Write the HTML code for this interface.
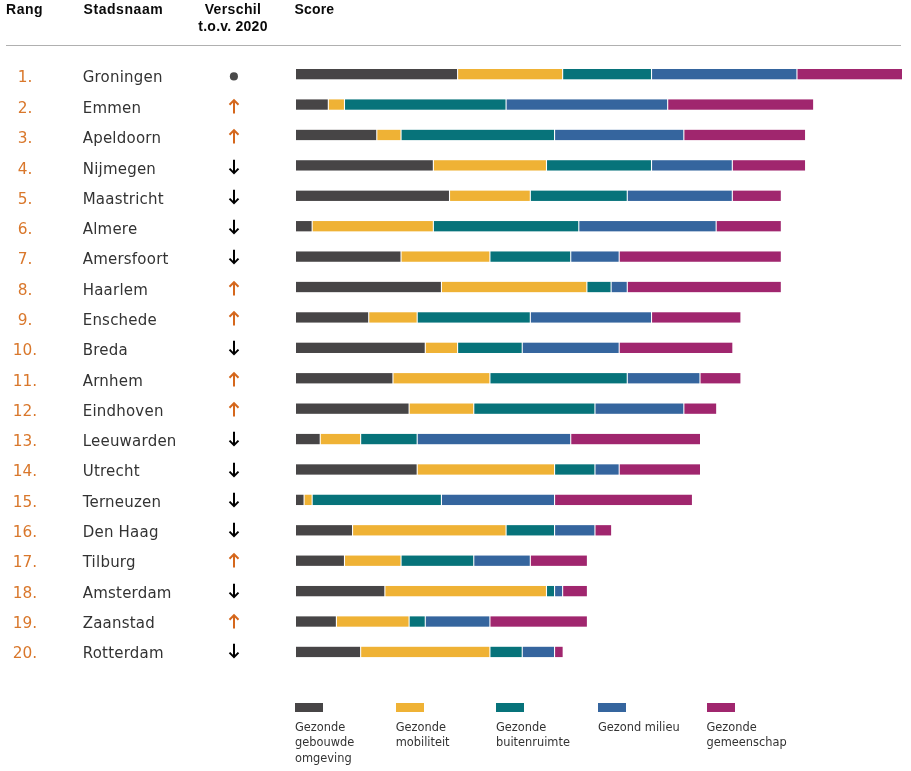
<!DOCTYPE html>
<html lang="nl"><head><meta charset="utf-8"><title>Ranglijst</title>
<style>
html,body{margin:0;padding:0;background:#fff;}
body{width:911px;height:771px;position:relative;overflow:hidden;font-family:"DejaVu Sans","Liberation Sans",sans-serif;color:#333;}
.h{position:absolute;top:0;font-family:"Liberation Sans",sans-serif;font-weight:bold;font-size:14px;letter-spacing:0.25px;line-height:17px;color:#0a0a0a;white-space:nowrap;}
.line{position:absolute;left:6px;top:45px;width:895px;height:1px;background:#b0b0b0;}
.r{position:absolute;left:0;width:50px;text-align:center;font-size:15.35px;line-height:20px;color:#D9772B;white-space:nowrap;}
.c{position:absolute;left:82.7px;font-size:15px;letter-spacing:0.22px;line-height:20px;color:#333;white-space:nowrap;}
.a{position:absolute;left:227px;width:14px;height:17px;}
.b{position:absolute;height:10.3px;}
.lg{position:absolute;top:702.5px;width:28.4px;height:9.5px;}
.lt{position:absolute;top:720px;font-size:11.4px;line-height:15.4px;color:#333;white-space:nowrap;}
</style></head><body>
<div class="h" style="left:6px;top:1px;letter-spacing:0.55px">Rang</div>
<div class="h" style="left:83.5px;top:1px;letter-spacing:0.57px">Stadsnaam</div>
<div class="h" style="left:183px;width:100px;text-align:center;top:1px"><span style="letter-spacing:0.38px">Verschil</span><br>t.o.v. 2020</div>
<div class="h" style="left:294.5px;top:1px;letter-spacing:0.15px">Score</div>
<div class="line"></div>

<div class="r" style="top:66.9px">1.</div>
<div class="c" style="top:66.9px">Groningen</div>
<svg class="a" style="top:66.6px" viewBox="0 0 14 17"><circle cx="6.9" cy="9.4" r="4.05" fill="#4a4a4a"/></svg>
<div class="r" style="top:97.9px">2.</div>
<div class="c" style="top:97.9px">Emmen</div>
<svg class="a" style="top:98.0px" viewBox="0 0 14 17"><path d="M7 15.6V2.2M2.5 6.7L7 2.2L11.5 6.7" fill="none" stroke="#D5671C" stroke-width="2"/></svg>
<div class="r" style="top:127.9px">3.</div>
<div class="c" style="top:127.9px">Apeldoorn</div>
<svg class="a" style="top:128.3px" viewBox="0 0 14 17"><path d="M7 15.6V2.2M2.5 6.7L7 2.2L11.5 6.7" fill="none" stroke="#D5671C" stroke-width="2"/></svg>
<div class="r" style="top:158.9px">4.</div>
<div class="c" style="top:158.9px">Nijmegen</div>
<svg class="a" style="top:158.6px" viewBox="0 0 14 17"><path d="M7 0.7V14.1M2.5 9.6L7 14.1L11.5 9.6" fill="none" stroke="#000" stroke-width="2"/></svg>
<div class="r" style="top:188.9px">5.</div>
<div class="c" style="top:188.9px">Maastricht</div>
<svg class="a" style="top:188.9px" viewBox="0 0 14 17"><path d="M7 0.7V14.1M2.5 9.6L7 14.1L11.5 9.6" fill="none" stroke="#000" stroke-width="2"/></svg>
<div class="r" style="top:218.9px">6.</div>
<div class="c" style="top:218.9px">Almere</div>
<svg class="a" style="top:219.2px" viewBox="0 0 14 17"><path d="M7 0.7V14.1M2.5 9.6L7 14.1L11.5 9.6" fill="none" stroke="#000" stroke-width="2"/></svg>
<div class="r" style="top:248.9px">7.</div>
<div class="c" style="top:248.9px">Amersfoort</div>
<svg class="a" style="top:249.4px" viewBox="0 0 14 17"><path d="M7 0.7V14.1M2.5 9.6L7 14.1L11.5 9.6" fill="none" stroke="#000" stroke-width="2"/></svg>
<div class="r" style="top:279.9px">8.</div>
<div class="c" style="top:279.9px">Haarlem</div>
<svg class="a" style="top:279.7px" viewBox="0 0 14 17"><path d="M7 15.6V2.2M2.5 6.7L7 2.2L11.5 6.7" fill="none" stroke="#D5671C" stroke-width="2"/></svg>
<div class="r" style="top:309.9px">9.</div>
<div class="c" style="top:309.9px">Enschede</div>
<svg class="a" style="top:310.0px" viewBox="0 0 14 17"><path d="M7 15.6V2.2M2.5 6.7L7 2.2L11.5 6.7" fill="none" stroke="#D5671C" stroke-width="2"/></svg>
<div class="r" style="top:339.9px">10.</div>
<div class="c" style="top:339.9px">Breda</div>
<svg class="a" style="top:340.3px" viewBox="0 0 14 17"><path d="M7 0.7V14.1M2.5 9.6L7 14.1L11.5 9.6" fill="none" stroke="#000" stroke-width="2"/></svg>
<div class="r" style="top:370.9px">11.</div>
<div class="c" style="top:370.9px">Arnhem</div>
<svg class="a" style="top:370.6px" viewBox="0 0 14 17"><path d="M7 15.6V2.2M2.5 6.7L7 2.2L11.5 6.7" fill="none" stroke="#D5671C" stroke-width="2"/></svg>
<div class="r" style="top:400.9px">12.</div>
<div class="c" style="top:400.9px">Eindhoven</div>
<svg class="a" style="top:400.9px" viewBox="0 0 14 17"><path d="M7 15.6V2.2M2.5 6.7L7 2.2L11.5 6.7" fill="none" stroke="#D5671C" stroke-width="2"/></svg>
<div class="r" style="top:430.9px">13.</div>
<div class="c" style="top:430.9px">Leeuwarden</div>
<svg class="a" style="top:431.2px" viewBox="0 0 14 17"><path d="M7 0.7V14.1M2.5 9.6L7 14.1L11.5 9.6" fill="none" stroke="#000" stroke-width="2"/></svg>
<div class="r" style="top:460.9px">14.</div>
<div class="c" style="top:460.9px">Utrecht</div>
<svg class="a" style="top:461.5px" viewBox="0 0 14 17"><path d="M7 0.7V14.1M2.5 9.6L7 14.1L11.5 9.6" fill="none" stroke="#000" stroke-width="2"/></svg>
<div class="r" style="top:491.9px">15.</div>
<div class="c" style="top:491.9px">Terneuzen</div>
<svg class="a" style="top:491.8px" viewBox="0 0 14 17"><path d="M7 0.7V14.1M2.5 9.6L7 14.1L11.5 9.6" fill="none" stroke="#000" stroke-width="2"/></svg>
<div class="r" style="top:521.9px">16.</div>
<div class="c" style="top:521.9px">Den Haag</div>
<svg class="a" style="top:522.1px" viewBox="0 0 14 17"><path d="M7 0.7V14.1M2.5 9.6L7 14.1L11.5 9.6" fill="none" stroke="#000" stroke-width="2"/></svg>
<div class="r" style="top:551.9px">17.</div>
<div class="c" style="top:551.9px">Tilburg</div>
<svg class="a" style="top:552.3px" viewBox="0 0 14 17"><path d="M7 15.6V2.2M2.5 6.7L7 2.2L11.5 6.7" fill="none" stroke="#D5671C" stroke-width="2"/></svg>
<div class="r" style="top:582.9px">18.</div>
<div class="c" style="top:582.9px">Amsterdam</div>
<svg class="a" style="top:582.6px" viewBox="0 0 14 17"><path d="M7 0.7V14.1M2.5 9.6L7 14.1L11.5 9.6" fill="none" stroke="#000" stroke-width="2"/></svg>
<div class="r" style="top:612.9px">19.</div>
<div class="c" style="top:612.9px">Zaanstad</div>
<svg class="a" style="top:612.9px" viewBox="0 0 14 17"><path d="M7 15.6V2.2M2.5 6.7L7 2.2L11.5 6.7" fill="none" stroke="#D5671C" stroke-width="2"/></svg>
<div class="r" style="top:642.9px">20.</div>
<div class="c" style="top:642.9px">Rotterdam</div>
<svg class="a" style="top:643.2px" viewBox="0 0 14 17"><path d="M7 0.7V14.1M2.5 9.6L7 14.1L11.5 9.6" fill="none" stroke="#000" stroke-width="2"/></svg>
<svg style="position:absolute;left:296.1px;top:68.7px;overflow:visible" width="612" height="600" viewBox="0 0 612 600"><rect x="0.00" y="0.00" width="161.05" height="10.3" fill="#474546"/><rect x="162.15" y="0.00" width="103.94" height="10.3" fill="#EFB235"/><rect x="267.19" y="0.00" width="87.78" height="10.3" fill="#07737A"/><rect x="356.07" y="0.00" width="144.34" height="10.3" fill="#35659E"/><rect x="501.51" y="0.00" width="104.49" height="10.3" fill="#A0266E"/><rect x="0.00" y="30.41" width="31.77" height="10.3" fill="#474546"/><rect x="32.87" y="30.41" width="15.06" height="10.3" fill="#EFB235"/><rect x="49.03" y="30.41" width="160.50" height="10.3" fill="#07737A"/><rect x="210.63" y="30.41" width="160.50" height="10.3" fill="#35659E"/><rect x="372.23" y="30.41" width="144.89" height="10.3" fill="#A0266E"/><rect x="0.00" y="60.82" width="80.25" height="10.3" fill="#474546"/><rect x="81.35" y="60.82" width="23.14" height="10.3" fill="#EFB235"/><rect x="105.59" y="60.82" width="152.42" height="10.3" fill="#07737A"/><rect x="259.11" y="60.82" width="128.18" height="10.3" fill="#35659E"/><rect x="388.39" y="60.82" width="120.65" height="10.3" fill="#A0266E"/><rect x="0.00" y="91.23" width="136.81" height="10.3" fill="#474546"/><rect x="137.91" y="91.23" width="112.02" height="10.3" fill="#EFB235"/><rect x="251.03" y="91.23" width="103.94" height="10.3" fill="#07737A"/><rect x="356.07" y="91.23" width="79.70" height="10.3" fill="#35659E"/><rect x="436.87" y="91.23" width="72.17" height="10.3" fill="#A0266E"/><rect x="0.00" y="121.64" width="152.97" height="10.3" fill="#474546"/><rect x="154.07" y="121.64" width="79.70" height="10.3" fill="#EFB235"/><rect x="234.87" y="121.64" width="95.86" height="10.3" fill="#07737A"/><rect x="331.83" y="121.64" width="103.94" height="10.3" fill="#35659E"/><rect x="436.87" y="121.64" width="47.93" height="10.3" fill="#A0266E"/><rect x="0.00" y="152.05" width="15.61" height="10.3" fill="#474546"/><rect x="16.71" y="152.05" width="120.10" height="10.3" fill="#EFB235"/><rect x="137.91" y="152.05" width="144.34" height="10.3" fill="#07737A"/><rect x="283.35" y="152.05" width="136.26" height="10.3" fill="#35659E"/><rect x="420.71" y="152.05" width="64.09" height="10.3" fill="#A0266E"/><rect x="0.00" y="182.46" width="104.49" height="10.3" fill="#474546"/><rect x="105.59" y="182.46" width="87.78" height="10.3" fill="#EFB235"/><rect x="194.47" y="182.46" width="79.70" height="10.3" fill="#07737A"/><rect x="275.27" y="182.46" width="47.38" height="10.3" fill="#35659E"/><rect x="323.75" y="182.46" width="161.05" height="10.3" fill="#A0266E"/><rect x="0.00" y="212.87" width="144.89" height="10.3" fill="#474546"/><rect x="145.99" y="212.87" width="144.34" height="10.3" fill="#EFB235"/><rect x="291.43" y="212.87" width="23.14" height="10.3" fill="#07737A"/><rect x="315.67" y="212.87" width="15.06" height="10.3" fill="#35659E"/><rect x="331.83" y="212.87" width="152.97" height="10.3" fill="#A0266E"/><rect x="0.00" y="243.28" width="72.17" height="10.3" fill="#474546"/><rect x="73.27" y="243.28" width="47.38" height="10.3" fill="#EFB235"/><rect x="121.75" y="243.28" width="112.02" height="10.3" fill="#07737A"/><rect x="234.87" y="243.28" width="120.10" height="10.3" fill="#35659E"/><rect x="356.07" y="243.28" width="88.33" height="10.3" fill="#A0266E"/><rect x="0.00" y="273.69" width="128.73" height="10.3" fill="#474546"/><rect x="129.83" y="273.69" width="31.22" height="10.3" fill="#EFB235"/><rect x="162.15" y="273.69" width="63.54" height="10.3" fill="#07737A"/><rect x="226.79" y="273.69" width="95.86" height="10.3" fill="#35659E"/><rect x="323.75" y="273.69" width="112.57" height="10.3" fill="#A0266E"/><rect x="0.00" y="304.10" width="96.41" height="10.3" fill="#474546"/><rect x="97.51" y="304.10" width="95.86" height="10.3" fill="#EFB235"/><rect x="194.47" y="304.10" width="136.26" height="10.3" fill="#07737A"/><rect x="331.83" y="304.10" width="71.62" height="10.3" fill="#35659E"/><rect x="404.55" y="304.10" width="39.85" height="10.3" fill="#A0266E"/><rect x="0.00" y="334.51" width="112.57" height="10.3" fill="#474546"/><rect x="113.67" y="334.51" width="63.54" height="10.3" fill="#EFB235"/><rect x="178.31" y="334.51" width="120.10" height="10.3" fill="#07737A"/><rect x="299.51" y="334.51" width="87.78" height="10.3" fill="#35659E"/><rect x="388.39" y="334.51" width="31.77" height="10.3" fill="#A0266E"/><rect x="0.00" y="364.92" width="23.69" height="10.3" fill="#474546"/><rect x="24.79" y="364.92" width="39.30" height="10.3" fill="#EFB235"/><rect x="65.19" y="364.92" width="55.46" height="10.3" fill="#07737A"/><rect x="121.75" y="364.92" width="152.42" height="10.3" fill="#35659E"/><rect x="275.27" y="364.92" width="128.73" height="10.3" fill="#A0266E"/><rect x="0.00" y="395.33" width="120.65" height="10.3" fill="#474546"/><rect x="121.75" y="395.33" width="136.26" height="10.3" fill="#EFB235"/><rect x="259.11" y="395.33" width="39.30" height="10.3" fill="#07737A"/><rect x="299.51" y="395.33" width="23.14" height="10.3" fill="#35659E"/><rect x="323.75" y="395.33" width="80.25" height="10.3" fill="#A0266E"/><rect x="0.00" y="425.74" width="7.53" height="10.3" fill="#474546"/><rect x="8.63" y="425.74" width="6.98" height="10.3" fill="#EFB235"/><rect x="16.71" y="425.74" width="128.18" height="10.3" fill="#07737A"/><rect x="145.99" y="425.74" width="112.02" height="10.3" fill="#35659E"/><rect x="259.11" y="425.74" width="136.81" height="10.3" fill="#A0266E"/><rect x="0.00" y="456.15" width="56.01" height="10.3" fill="#474546"/><rect x="57.11" y="456.15" width="152.42" height="10.3" fill="#EFB235"/><rect x="210.63" y="456.15" width="47.38" height="10.3" fill="#07737A"/><rect x="259.11" y="456.15" width="39.30" height="10.3" fill="#35659E"/><rect x="299.51" y="456.15" width="15.61" height="10.3" fill="#A0266E"/><rect x="0.00" y="486.56" width="47.93" height="10.3" fill="#474546"/><rect x="49.03" y="486.56" width="55.46" height="10.3" fill="#EFB235"/><rect x="105.59" y="486.56" width="71.62" height="10.3" fill="#07737A"/><rect x="178.31" y="486.56" width="55.46" height="10.3" fill="#35659E"/><rect x="234.87" y="486.56" width="56.01" height="10.3" fill="#A0266E"/><rect x="0.00" y="516.97" width="88.33" height="10.3" fill="#474546"/><rect x="89.43" y="516.97" width="160.50" height="10.3" fill="#EFB235"/><rect x="251.03" y="516.97" width="6.98" height="10.3" fill="#07737A"/><rect x="259.11" y="516.97" width="6.98" height="10.3" fill="#35659E"/><rect x="267.19" y="516.97" width="23.69" height="10.3" fill="#A0266E"/><rect x="0.00" y="547.38" width="39.85" height="10.3" fill="#474546"/><rect x="40.95" y="547.38" width="71.62" height="10.3" fill="#EFB235"/><rect x="113.67" y="547.38" width="15.06" height="10.3" fill="#07737A"/><rect x="129.83" y="547.38" width="63.54" height="10.3" fill="#35659E"/><rect x="194.47" y="547.38" width="96.41" height="10.3" fill="#A0266E"/><rect x="0.00" y="577.79" width="64.09" height="10.3" fill="#474546"/><rect x="65.19" y="577.79" width="128.18" height="10.3" fill="#EFB235"/><rect x="194.47" y="577.79" width="31.22" height="10.3" fill="#07737A"/><rect x="226.79" y="577.79" width="31.22" height="10.3" fill="#35659E"/><rect x="259.11" y="577.79" width="7.53" height="10.3" fill="#A0266E"/></svg>
<div class="lg" style="left:295px;background:#474546"></div>
<div class="lt" style="left:295px">Gezonde<br>gebouwde<br>omgeving</div>
<div class="lg" style="left:395.7px;background:#EFB235"></div>
<div class="lt" style="left:395.7px">Gezonde<br>mobiliteit</div>
<div class="lg" style="left:496px;background:#07737A"></div>
<div class="lt" style="left:496px">Gezonde<br>buitenruimte</div>
<div class="lg" style="left:598px;background:#35659E"></div>
<div class="lt" style="left:598px">Gezond milieu</div>
<div class="lg" style="left:706.5px;background:#A0266E"></div>
<div class="lt" style="left:706.5px">Gezonde<br>gemeenschap</div>
</body></html>
